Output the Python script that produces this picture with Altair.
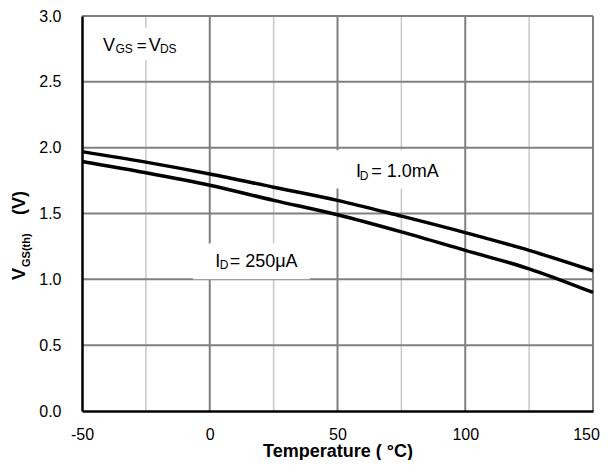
import altair as alt
import pandas as pd

# ---- data ----
temps = [-50, -25, 0, 25, 50, 75, 100, 125, 150]
vth_1mA = [1.97, 1.89, 1.80, 1.70, 1.60, 1.48, 1.355, 1.22, 1.065]
vth_250uA = [1.895, 1.81, 1.715, 1.60, 1.49, 1.36, 1.22, 1.08, 0.90]

x_ticks = [-50, 0, 50, 100, 150]
y_ticks = [0.0, 0.5, 1.0, 1.5, 2.0, 2.5, 3.0]
major_x = [0, 50, 100, 150]
minor_x = [-25, 25, 75, 125]
h_grid = [0.5, 1.0, 1.5, 2.0, 2.5, 3.0]

# annotation background boxes (data units)
box_x1 = [-44.9, 48.2, -6.6]
box_x2 = [-7.8, 93.9, 39.2]
box_y1 = [2.665, 1.69, 1.0]
box_y2 = [2.909, 1.98, 1.272]

# annotation text pieces (data units)
ann_text = ["V", "GS", "=", "V", "DS",
            "I", "D", "= 1.0mA",
            "I", "D", "= 250\u03bcA"]
ann_x = [-41.8, -36.9, -28.6, -23.9, -19.5,
         57.25, 58.7, 63.2,
         2.12, 3.96, 7.8]
ann_y = [2.734, 2.718, 2.734, 2.734, 2.718,
         1.774, 1.751, 1.774,
         1.096, 1.077, 1.096]
ann_size = [18, 12, 17, 18, 12,
            18, 12, 18,
            18, 12, 18]

# y-axis title pieces (pixel positions relative to plot origin)
yt_text = ["V", "GS(th)", "(V)"]
yt_px = [-57, -52, -57]
yt_py = [264, 251, 199]
yt_size = [18, 11, 18]

FONT = "Liberation Sans"

curves = pd.DataFrame({
    "T": temps * 2,
    "V": vth_1mA + vth_250uA,
    "series": ["1.0mA"] * len(temps) + ["250uA"] * len(temps),
})
ann = pd.DataFrame({"T": ann_x, "V": ann_y, "t": ann_text, "s": ann_size})
boxes = pd.DataFrame({"T": box_x1, "T2": box_x2, "V": box_y1, "V2": box_y2})

xs = alt.Scale(domain=[-50, 150], nice=False, zero=False)
ys = alt.Scale(domain=[0, 3], nice=False, zero=True)

x_axis = alt.Axis(
    values=x_ticks, labelExpr="'' + datum.value", ticks=False,
    labelPadding=15, labelFontSize=16, labelFont=FONT, labelColor="black",
    labelFlush=False, labelOverlap=False, grid=False,
    labelOffset={"condition": {"test": "datum.value == 150", "value": -7}, "value": 0},
    domainColor="black", domainWidth=2.5, zindex=1,
    title="Temperature ( \u00b0C)", titleFont=FONT, titleFontSize=18,
    titleFontWeight="bold", titleColor="black", titlePadding=0,
)
y_axis = alt.Axis(
    values=y_ticks, format=".1f", ticks=False,
    labelPadding=21, labelFontSize=16, labelFont=FONT, labelColor="black",
    labelOverlap=False, grid=False, labelFlush=False,
    domainColor="black", domainWidth=2.5, zindex=1, title=None,
)

X = lambda f: alt.X(f, scale=xs, axis=x_axis, title="Temperature ( \u00b0C)")
Y = lambda f: alt.Y(f, scale=ys, axis=y_axis, title=None)

hgrid = alt.Chart(pd.DataFrame({"V": h_grid})).mark_rule(
    color="#808080", strokeWidth=2
).encode(y=Y("V:Q"))

vmajor = alt.Chart(pd.DataFrame({"T": major_x})).mark_rule(
    color="#808080", strokeWidth=2
).encode(x=X("T:Q"))

vminor = alt.Chart(pd.DataFrame({"T": minor_x})).mark_rule(
    color="#c8c8c8", strokeWidth=1.5
).encode(x=X("T:Q"))

bg = alt.Chart(boxes).mark_rect(color="white").encode(
    x=X("T:Q"), x2="T2:Q", y=Y("V:Q"), y2="V2:Q",
)

lines = alt.Chart(curves).mark_line(
    color="black", strokeWidth=3.5, interpolate="monotone"
).encode(x=X("T:Q"), y=Y("V:Q"), detail="series:N")

texts = alt.Chart(ann).mark_text(
    align="left", baseline="alphabetic", font=FONT, color="black"
).encode(
    x=X("T:Q"), y=Y("V:Q"), text="t:N",
    size=alt.Size("s:Q", scale=None, legend=None),
)

ytitle_layers = []
for t, px, py, s in zip(yt_text, yt_px, yt_py, yt_size):
    ytitle_layers.append(
        alt.Chart(pd.DataFrame({"t": [t]})).mark_text(
            align="left", baseline="alphabetic", font=FONT, fontWeight="bold",
            color="black", angle=270, fontSize=s
        ).encode(x=alt.value(px), y=alt.value(py), text="t:N")
    )

chart = alt.layer(vminor, vmajor, hgrid, bg, lines, texts, *ytitle_layers).properties(
    width=511, height=395,
    autosize=alt.AutoSizeParams(type="none"),
    padding={"left": 74, "top": 8, "right": 7, "bottom": 49},
).configure_view(stroke=None).configure(background="white")

chart.save("out.html", embed_options={"renderer": "svg", "actions": False})
